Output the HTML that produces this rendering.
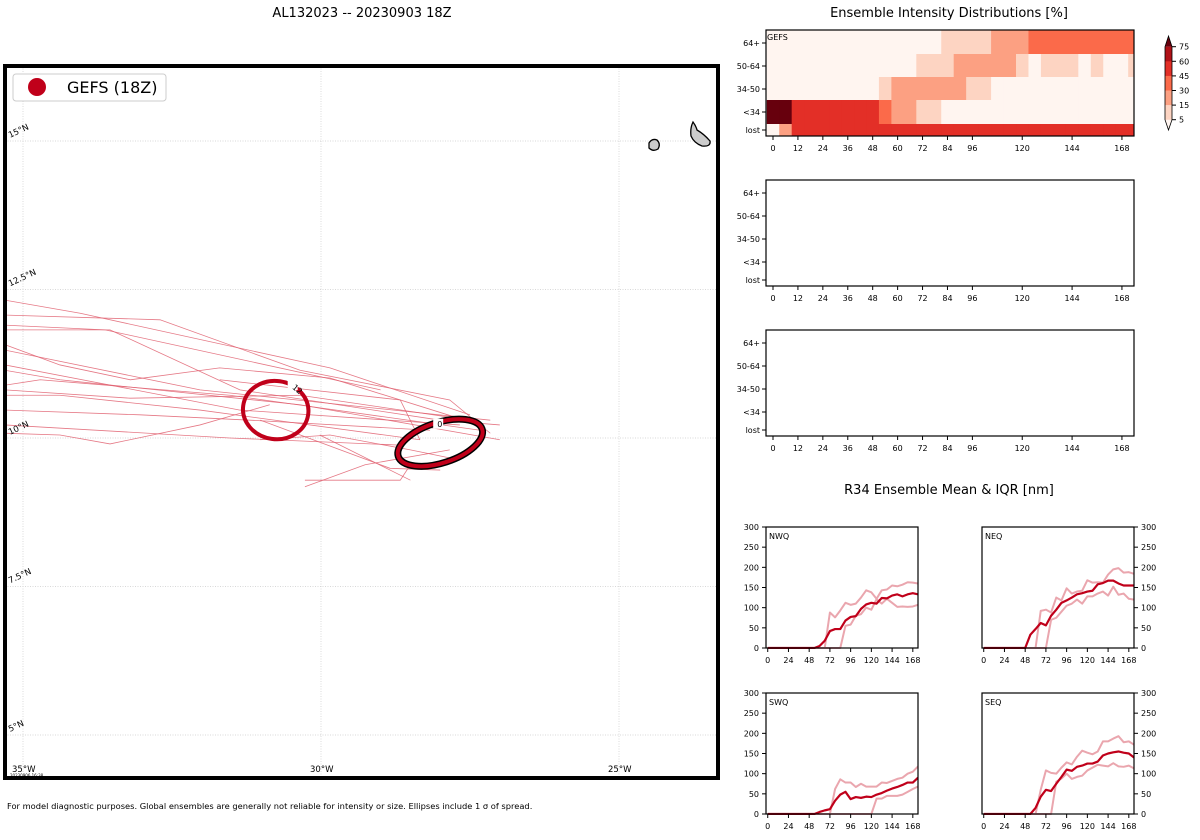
<!DOCTYPE html>
<html><head><meta charset="utf-8"><style>
html,body{margin:0;padding:0;background:#fff;}
svg{display:block;font-family:"DejaVu Sans","Liberation Sans",sans-serif;}
</style></head><body>
<svg id="fig" width="1200" height="840" viewBox="0 0 1200 840" xmlns="http://www.w3.org/2000/svg">
<text x="362" y="17" font-size="13" text-anchor="middle">AL132023 -- 20230903 18Z</text>
<text x="949" y="17" font-size="13" text-anchor="middle">Ensemble Intensity Distributions [%]</text>
<text x="949" y="494" font-size="13" text-anchor="middle">R34 Ensemble Mean &amp; IQR [nm]</text>
<text x="7" y="809" font-size="8.3">For model diagnostic purposes. Global ensembles are generally not reliable for intensity or size. Ellipses include 1 σ of spread.</text>
<g id="map"></g>
<g id="heat"></g>
<g id="r34"></g>
</svg>
<script>
const NS="http://www.w3.org/2000/svg";
function mk(p,t,a){const e=document.createElementNS(NS,t);for(const k in a)e.setAttribute(k,a[k]);p.appendChild(e);return e;}
function tx(p,x,y,s,a){const e=mk(p,'text',Object.assign({x:x,y:y},a||{}));e.textContent=s;return e;}

// ---------- MAP DATA ----------
const mapLonTicks=[-35,-30,-25];
const mapLatTicks=[15,12.5,10,7.5,5];
const mapLatLabels=["15°N","12.5°N","10°N","7.5°N","5°N"];
const mapLonLabels=["35°W","30°W","25°W"];
const tracks=[
[[-27.5,10.39],[-29.85,11.18],[-34.04,12.1],[-35.3,12.32]],
[[-27.16,10.3],[-32.03,10.81],[-35.3,11.48]],
[[-29.0,10.81],[-33.62,11.82],[-35.3,11.9]],
[[-27.67,10.22],[-31.36,10.47],[-35.3,11.23]],
[[-27.0,9.97],[-30.35,10.56],[-34.38,10.98],[-35.3,11.14]],
[[-27.33,10.13],[-31.53,10.72],[-34.71,10.98],[-35.3,10.89]],
[[-27.5,10.3],[-30.35,10.72],[-33.2,10.67],[-35.3,10.81]],
[[-28.17,10.13],[-31.19,10.3],[-33.04,10.39],[-35.3,10.47]],
[[-28.34,9.97],[-32.03,10.47],[-34.38,10.72],[-35.3,10.72]],
[[-28.67,9.88],[-31.53,10.0],[-35.3,10.22]],
[[-30.27,9.18],[-29.26,9.55],[-27.84,9.8]],
[[-30.27,9.29],[-28.67,9.29],[-28.5,9.55]],
[[-30.02,10.05],[-28.5,9.29]],
[[-31.02,10.3],[-28.84,9.49],[-28.0,9.46]],
[[-35.3,10.08],[-34.38,10.05],[-33.54,9.9],[-32.03,10.22],[-30.86,10.56]],
[[-35.3,11.57],[-34.38,11.23],[-33.2,10.98],[-31.7,11.18],[-29.85,11.01],[-27.33,10.22]],
[[-35.3,12.07],[-32.7,11.99],[-30.35,11.14],[-27.84,10.64],[-27.16,10.08]],
[[-31.7,10.98],[-28.67,10.64],[-28.34,9.97]],
[[-35.3,11.82],[-33.54,11.82],[-31.36,10.81],[-28.0,10.3],[-27.0,10.22]],
[[-31.02,9.97],[-29.85,10.05],[-28.5,9.8],[-27.67,9.63]]
];
const ellipses=[{lon:-30.76,lat:10.47,rx:0.55,ry:0.49,rot:8,label:"12"},{lon:-28.0,lat:9.92,rx:0.74,ry:0.34,rot:-18,label:"0"}];

const mapX=lon=>23+(lon+35)*59.6, mapY=lat=>438-(lat-10)*59.4;
(function(){
 const g=document.getElementById('map');
 const clip=mk(g,'clipPath',{id:'mclip'});mk(clip,'rect',{x:7,y:68,width:709,height:708});
 const inner=mk(g,'g',{'clip-path':'url(#mclip)'});
 mapLonTicks.forEach((v,i)=>{const l=mk(inner,'line',{x1:mapX(v),x2:mapX(v),y1:66,y2:778,stroke:'#ccc','stroke-width':0.7,'stroke-dasharray':'1,1.5'});
  
  const t=tx(g,mapX(v)-11,772,mapLonLabels[i],{'font-size':8.5});});
 mapLatTicks.forEach((v,i)=>{const l=mk(inner,'line',{x1:5,x2:718,y1:mapY(v),y2:mapY(v),stroke:'#ccc','stroke-width':0.7,'stroke-dasharray':'1,1.5'});
  
  const t=tx(g,10,mapY(v)-3,mapLatLabels[i],{'font-size':8.5,transform:`rotate(-25 10 ${mapY(v)-3})`});});
 tracks.forEach(tr=>{const p=mk(inner,'polyline',{points:tr.map(q=>mapX(q[0])+','+mapY(q[1])).join(' '),fill:'none',stroke:'#e06070','stroke-width':0.8,'stroke-opacity':0.85});
  });
 ellipses.forEach((e,i)=>{const cx=mapX(e.lon),cy=mapY(e.lat),rx=e.rx*59.6,ry=e.ry*59.4;
  if(i==1){const b=mk(inner,'ellipse',{cx,cy,rx,ry,fill:'none',stroke:'#000','stroke-width':7,transform:`rotate(${e.rot} ${cx} ${cy})`});}
  const el=mk(inner,'ellipse',{cx,cy,rx,ry,fill:'none',stroke:'#c0001a','stroke-width':4,transform:`rotate(${e.rot} ${cx} ${cy})`});
  
  const lx=i==0?cx+16:cx-3, ly=i==0?cy-22:cy-16;
  mk(inner,'rect',{x:lx-4,y:ly-8,width:10,height:10,fill:'#fff'});
  const t=tx(inner,lx,ly,e.label,{'font-size':8,transform:i==0?`rotate(40 ${lx} ${ly})`:''});});
 const is1=mk(g,'path',{d:'M649,143 Q652,138 657,140 Q661,144 658,149 Q653,152 649,148 Z',fill:'#ccc',stroke:'#000','stroke-width':1.3});
 const is2=mk(g,'path',{d:'M693,122 Q696,126 697,130 Q704,134 710,141 Q711,147 702,146 Q694,143 691,136 Q690,128 693,122 Z',fill:'#ccc',stroke:'#000','stroke-width':1.3});
 tx(g,10,777,'20230906 16:38',{'font-size':4});
 const fr=mk(g,'rect',{x:5,y:66,width:713,height:712,fill:'none',stroke:'#000','stroke-width':4});
 const lg=mk(g,'g',{});
 mk(lg,'rect',{x:13,y:74,width:153,height:27,rx:3,fill:'#fff',stroke:'#ccc'});
 const d=mk(lg,'circle',{cx:37,cy:87,r:9,fill:'#c0001a'});
 tx(lg,67,93,'GEFS (18Z)',{'font-size':16});
})();

// ---------- HEATMAP DATA ----------
const heatRows=["64+","50-64","34-50","<34","lost"];
const heatHours=[0,6,12,18,24,30,36,42,48,54,60,66,72,78,84,90,96,102,108,114,120,126,132,138,144,150,156,162,168,174];
const heatTicks=[0,12,24,36,48,60,72,84,96,120,144,168];
const heatColors=["#fff5f0","#fdd4c2","#fca082","#fb6a4a","#e32f27","#b11218","#67000d"];
const row64=[0,0,0,0,0,0,0,0,0,0,0,0,0,0,1,1,1,1,2,2,2,3,3,3,3,3,3,3,3,3];
const row5064=[0,0,0,0,0,0,0,0,0,0,0,0,1,1,1,2,2,2,2,2,1,0,1,1,1,0,1,0,0,1];
const row3450=[0,0,0,0,0,0,0,0,0,1,2,2,2,2,2,2,1,1,0,0,0,0,0,0,0,0,0,0,0,0];
const rowLt34=[6,6,4,4,4,4,4,4,4,3,2,2,1,1,0,0,0,0,0,0,0,0,0,0,0,0,0,0,0,0];
const rowLost=[0,2,4,4,4,4,4,4,4,4,4,4,4,4,4,4,4,4,4,4,4,4,4,4,4,4,4,4,4,4];
const cbLevels=["75","60","45","30","15","5"];

(function(){
 const G=document.getElementById('heat');
 const x0=766,x1=1134;
 const hx=h=>773+h*2.077;
 const rowsY=[[30,54],[54,77],[77,100],[100,124],[124,136]];
 const rowData=[row64,row5064,row3450,rowLt34,rowLost];
 [30,180,330].forEach((top,pi)=>{
  const g=mk(G,'g',{});
  const off=top-30;
  if(pi==0){rowData.forEach((r,ri)=>r.forEach((c,ci)=>{const xa=Math.max(x0,hx(heatHours[ci]-3)),xb=Math.min(x1,hx(heatHours[ci]+3));
   const rc=mk(g,'rect',{x:xa,y:rowsY[ri][0],width:xb-xa+0.5,height:rowsY[ri][1]-rowsY[ri][0],fill:heatColors[c]});
   }));
   tx(g,767,40,'GEFS',{'font-size':8});}
  mk(g,'rect',{x:x0,y:top,width:x1-x0,height:106,fill:'none',stroke:'#000','stroke-width':1.2});
  const tyl=[43,66,89,112,130];
  heatRows.forEach((r,i)=>{const y=tyl[i]+off;mk(g,'line',{x1:x0-4,x2:x0,y1:y,y2:y,stroke:'#000'});
   const t=tx(g,x0-6,y+3,r,{'font-size':8,'text-anchor':'end'});});
  heatTicks.forEach(h=>{const x=hx(h);mk(g,'line',{x1:x,x2:x,y1:top+106,y2:top+110,stroke:'#000'});
   const t=tx(g,x,top+121,String(h),{'font-size':8,'text-anchor':'middle'});});
 });
 const cb=mk(G,'g',{});
 const cx0=1165,cw=7,ytop=46.7,seg=14.6;
 mk(cb,'polygon',{points:`${cx0},${ytop} ${cx0+cw/2},36 ${cx0+cw},${ytop}`,fill:heatColors[6]});
 for(let i=0;i<5;i++)mk(cb,'rect',{x:cx0,y:ytop+i*seg,width:cw,height:seg+0.3,fill:heatColors[5-i]});
 mk(cb,'polygon',{points:`${cx0},${ytop+5*seg} ${cx0+cw/2},130 ${cx0+cw},${ytop+5*seg}`,fill:heatColors[0]});
 mk(cb,'polygon',{points:`${cx0},${ytop} ${cx0+cw/2},36 ${cx0+cw},${ytop} ${cx0+cw},${ytop+5*seg} ${cx0+cw/2},130 ${cx0},${ytop+5*seg}`,fill:'none',stroke:'#000','stroke-width':0.8});
 cbLevels.forEach((l,i)=>{const y=ytop+i*seg;mk(cb,'line',{x1:cx0+cw,x2:cx0+cw+4,y1:y,y2:y,stroke:'#000'});tx(cb,cx0+cw+7,y+3,l,{'font-size':8});});
})();

// ---------- R34 DATA ----------
const r34Hours=[0,6,12,18,24,30,36,42,48,54,60,66,72,78,84,90,96,102,108,114,120,126,132,138,144,150,156,162,168,174];
const r34Ticks=[0,24,48,72,96,120,144,168];
const r34YTicks=[0,50,100,150,200,250,300];
const nwqMean=[0,0,0,0,0,0,0,0,0,0,5,18,42,47,47,68,77,79,97,108,112,110,124,123,130,133,128,133,136,133];
const nwqUpper=[0,0,0,0,0,0,0,0,0,0,0,0,88,76,93,112,107,110,125,143,138,122,143,145,155,153,157,163,162,160];
const nwqLower=[0,0,0,0,0,0,0,0,0,0,0,0,0,0,0,55,58,80,84,100,95,121,110,122,112,102,103,102,103,107];
const neqMean=[0,0,0,0,0,0,0,0,0,33,47,62,56,80,95,112,118,125,133,136,140,142,158,161,167,167,160,155,155,155];
const neqUpper=[0,0,0,0,0,0,0,0,0,0,0,92,95,88,125,118,148,135,140,142,168,162,163,162,182,195,198,187,188,184];
const neqLower=[0,0,0,0,0,0,0,0,0,0,0,0,0,70,75,90,105,110,120,110,128,128,135,140,130,152,132,135,122,120];
const swqMean=[0,0,0,0,0,0,0,0,0,0,5,9,12,33,48,55,37,42,40,43,42,48,52,58,63,67,72,78,78,90];
const swqUpper=[0,0,0,0,0,0,0,0,0,0,0,0,0,62,86,78,78,67,75,68,68,68,78,77,82,87,90,100,105,118];
const swqLower=[0,0,0,0,0,0,0,0,0,0,0,0,0,0,0,0,0,0,0,0,0,38,38,45,45,45,48,55,62,68];
const seqMean=[0,0,0,0,0,0,0,0,0,0,15,43,60,57,75,92,110,107,117,120,125,125,130,145,150,153,155,152,150,140];
const seqUpper=[0,0,0,0,0,0,0,0,0,0,0,60,108,102,100,115,128,123,142,157,152,148,155,180,180,187,193,178,180,172];
const seqLower=[0,0,0,0,0,0,0,0,0,0,0,0,0,0,80,88,100,87,92,95,108,115,122,120,118,126,118,117,120,113];

(function(){
 const G=document.getElementById('r34');
 const panels=[
  {name:'NWQ',x0:766,y0:527,m:nwqMean,u:nwqUpper,l:nwqLower,right:false},
  {name:'NEQ',x0:982,y0:527,m:neqMean,u:neqUpper,l:neqLower,right:true},
  {name:'SWQ',x0:766,y0:693,m:swqMean,u:swqUpper,l:swqLower,right:false},
  {name:'SEQ',x0:982,y0:693,m:seqMean,u:seqUpper,l:seqLower,right:true}];
 panels.forEach((p,pi)=>{
  const W=152,H=121;
  const g=mk(G,'g',{});
  const X=h=>p.x0+(h+2)*W/176, Y=v=>p.y0+H-v*H/300;
  const cid='rc'+pi;const c=mk(g,'clipPath',{id:cid});mk(c,'rect',{x:p.x0,y:p.y0-2,width:W,height:H+3});
  const inner=mk(g,'g',{'clip-path':`url(#${cid})`});
  const pts=a=>a.map((v,i)=>X(r34Hours[i])+','+Y(v)).join(' ');
  [p.u,p.l].forEach((arr,k)=>{const q=mk(inner,'polyline',{points:pts(arr),fill:'none',stroke:'#eaa6ae','stroke-width':2,'stroke-linejoin':'round'});
   });
  const m=mk(inner,'polyline',{points:pts(p.m),fill:'none',stroke:'#c0001a','stroke-width':2.2,'stroke-linejoin':'round'});
  
  mk(g,'rect',{x:p.x0,y:p.y0,width:W,height:H,fill:'none',stroke:'#000','stroke-width':1.2});
  tx(g,p.x0+3,p.y0+12,p.name,{'font-size':8});
  r34Ticks.forEach(h=>{const x=X(h);mk(g,'line',{x1:x,x2:x,y1:p.y0+H,y2:p.y0+H+4,stroke:'#000'});
   const t=tx(g,x,p.y0+H+15,String(h),{'font-size':8,'text-anchor':'middle'});});
  r34YTicks.forEach(v=>{const y=Y(v);
   if(p.right){mk(g,'line',{x1:p.x0+W,x2:p.x0+W+4,y1:y,y2:y,stroke:'#000'});
    const t=tx(g,p.x0+W+7,y+3,String(v),{'font-size':8});}
   else{mk(g,'line',{x1:p.x0-4,x2:p.x0,y1:y,y2:y,stroke:'#000'});
    const t=tx(g,p.x0-7,y+3,String(v),{'font-size':8,'text-anchor':'end'});}});
 });
})();
</script>
</body></html>
